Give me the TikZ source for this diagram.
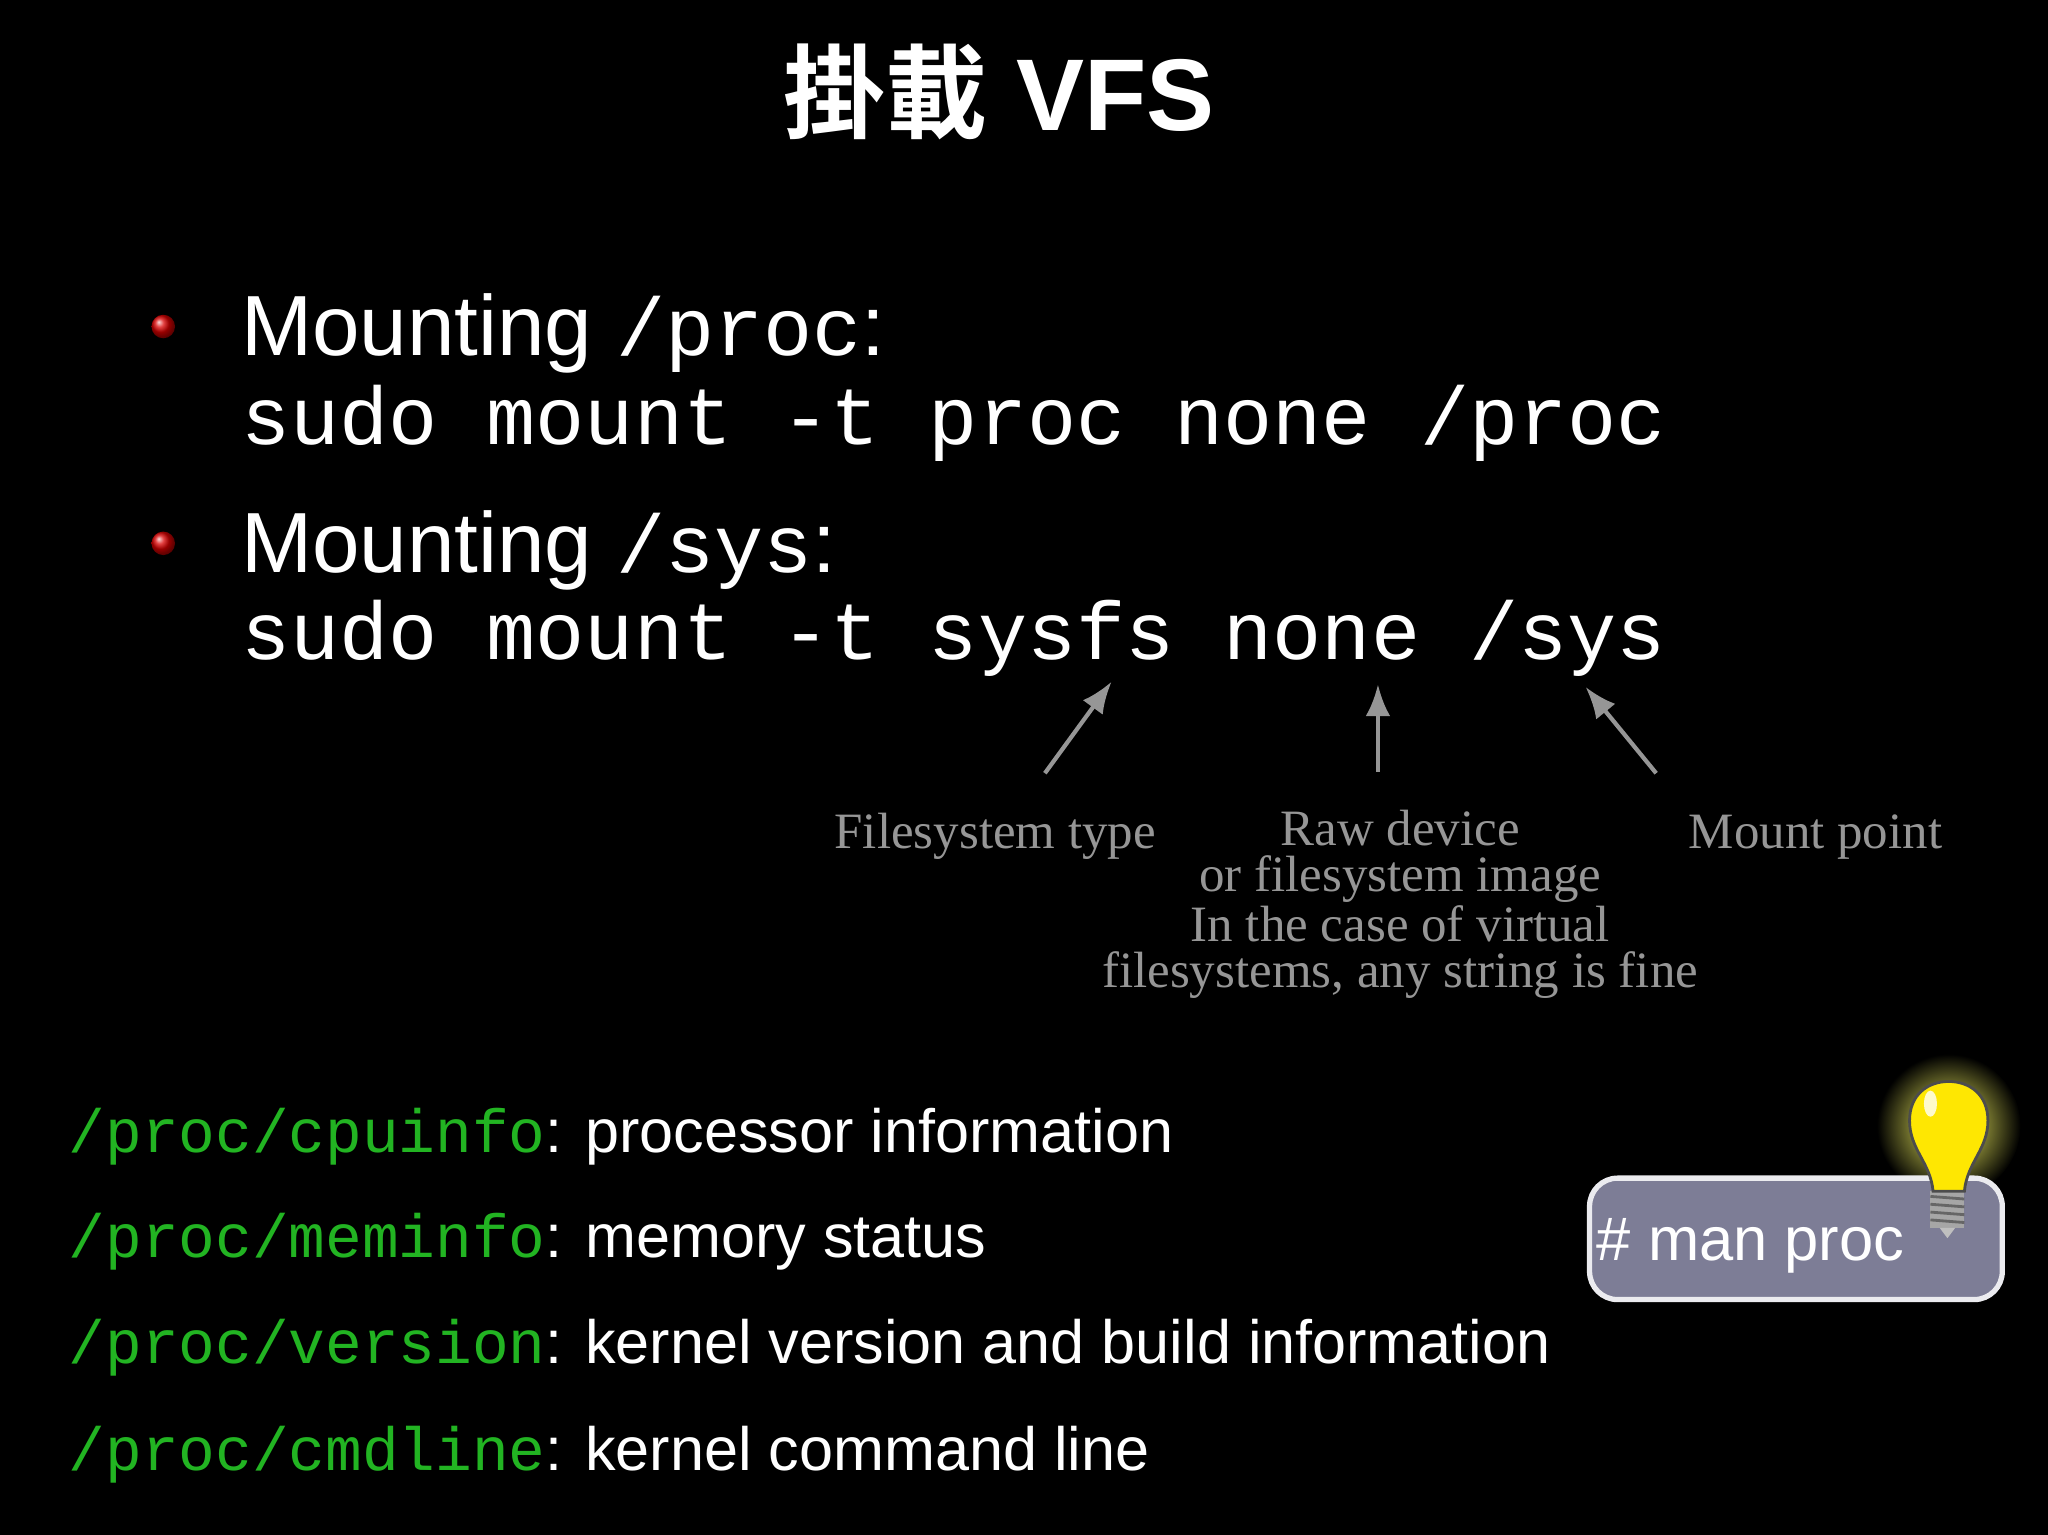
\documentclass[tikz,border=0pt]{standalone}
\usepackage{fontspec}
\setmainfont{Liberation Sans}
\setmonofont{Liberation Mono}
\newfontfamily\cjkb{Noto Sans CJK TC}[BoldFont=* Bold]
\newfontfamily\serifann{Liberation Serif}
\definecolor{codegreen}{RGB}{34,180,34}
\definecolor{anngray}{RGB}{150,150,150}
\definecolor{boxfill}{RGB}{125,125,150}
\begin{document}
\begin{tikzpicture}[x=0.013061cm,y=-0.013061cm,
  big/.style={anchor=base west,text=white,inner sep=0,font=\fontsize{24.3}{28}\selectfont},
  bigmono/.style={anchor=base west,text=white,inner sep=0,font=\fontsize{23.3}{28}\selectfont\ttfamily},
  small/.style={anchor=base west,inner sep=0,font=\fontsize{17.4}{20}\selectfont,text=white},
  ann/.style={anchor=base,inner sep=0,text=anngray,font=\fontsize{14.5}{16}\selectfont\serifann},
  annarrow/.style={draw=anngray,line width=1.2pt,-{Latex[length=9pt,width=7pt]}}]
\usetikzlibrary{arrows.meta}
\fill[black] (0,0) rectangle (1568,1175);
\node[anchor=base,text=white,inner sep=0,font=\fontsize{29}{34}\selectfont\bfseries] (title) at (765,100) {{\cjkb\bfseries 掛載} VFS};
\shade[ball color=red!85!black] (125,250) circle (9);
\shade[ball color=red!85!black] (125,416) circle (9);
\node[big] (m1) at (184,272) {Mounting {\fontsize{23.3}{28}\selectfont\ttfamily /proc}:};
\node[bigmono] (c1) at (184,340) {sudo mount -t proc none /proc};
\node[big] (m2) at (184,438) {Mounting {\fontsize{23.3}{28}\selectfont\ttfamily /sys}:};
\node[bigmono] (c2) at (184,505) {sudo mount -t sysfs none /sys};
\node[ann] (a1) at (762,650) {Filesystem type};
\node[ann,anchor=north,align=center,font=\fontsize{14.5}{13}\selectfont\serifann] (a2) at (1072,620) {Raw device\\or filesystem image\\In the case of virtual\\filesystems, any string is fine};
\node[ann] (a3) at (1390,650) {Mount point};
\coordinate (s1) at (800,592); \coordinate (e1) at (851,522);
\coordinate (s2) at (1055,591); \coordinate (e2) at (1055,524);
\coordinate (s3) at (1268,592); \coordinate (e3) at (1214,526);
\draw[annarrow] (s1) -- (e1);
\draw[annarrow] (s2) -- (e2);
\draw[annarrow] (s3) -- (e3);
\node[small] (p1) at (52,882) {\textcolor{codegreen}{\ttfamily /proc/cpuinfo}: processor information};
\node[small] (p2) at (52,963) {\textcolor{codegreen}{\ttfamily /proc/meminfo}: memory status};
\node[small] (p3) at (52,1044) {\textcolor{codegreen}{\ttfamily /proc/version}: kernel version and build information};
\node[small] (p4) at (52,1126) {\textcolor{codegreen}{\ttfamily /proc/cmdline}: kernel command line};
% glow
\shade[inner color=yellow!60!white,outer color=black] (1492,862) circle (55);
\draw[draw=white!85!boxfill,fill=boxfill,line width=1.5pt,rounded corners=8] (1217,902) rectangle (1533,995);
\node[small,font=\fontsize{17.5}{22}\selectfont] (man) at (1222,965) {\# man proc};
% lightbulb
\fill[gray!70] (1478,912) rectangle (1504,940);
\foreach \yy in {916,922,928,934} \draw[black!60,line width=0.8pt] (1478,\yy) -- (1504,\yy+2);
\fill[gray!50] (1485,940) -- (1497,940) -- (1491,948) -- cycle;
\draw[fill=yellow!90!orange,draw=black!70,line width=0.8pt] (1480,912) .. controls (1478,890) and (1462,880) .. (1462,858) .. controls (1462,838) and (1476,828) .. (1492,828) .. controls (1508,828) and (1522,838) .. (1522,858) .. controls (1522,880) and (1506,890) .. (1504,912) -- cycle;
\fill[white,opacity=0.8] (1478,845) ellipse (5 and 10);
\end{tikzpicture}
\end{document}
